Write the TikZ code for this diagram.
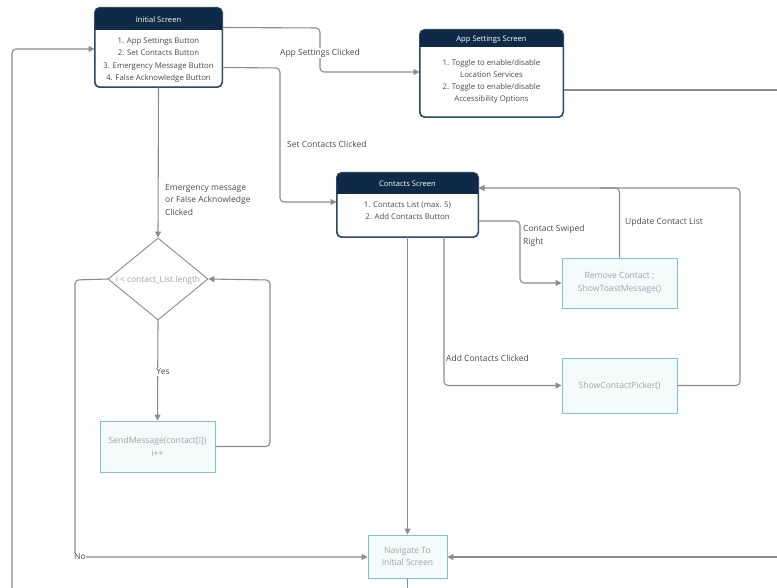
\documentclass[tikz,border=0pt]{standalone}
\usepackage{fontspec}
\setmainfont{Open Sans}
\usetikzlibrary{arrows.meta,shapes.geometric}
\definecolor{navy}{HTML}{0E2A47}
\definecolor{connc}{HTML}{8C8C8C}
\definecolor{tealb}{HTML}{7EC6C6}
\definecolor{tealf}{HTML}{F3FBFB}
\definecolor{ptext}{HTML}{9AA6A6}
\definecolor{stext}{HTML}{4A4A4A}
\tikzset{
  conn/.style={draw=connc, line width=1.1pt, rounded corners=4pt},
  arr/.style={conn, -{Triangle[length=6pt,width=6pt]}},
  screenbox/.style={draw=navy!85, line width=1pt, rounded corners=5pt, fill=white, inner sep=0pt},
  hdrtext/.style={text=white, font=\fontsize{7.6}{9}\selectfont, inner sep=0pt},
  bodytext/.style={text=stext, align=center, inner sep=0pt},
  proc/.style={draw=tealb, fill=tealf, line width=0.9pt, text=ptext, align=center, font=\fontsize{8.6}{12.5}\selectfont, inner sep=0pt},
  lbl/.style={text=stext, font=\fontsize{8.5}{12.5}\selectfont, align=left, inner sep=1pt},
}
\begin{document}
\begin{tikzpicture}[x=1pt,y=-1pt]
\useasboundingbox (0,0) rectangle (777,588);

% ---------- Initial Screen ----------
\node[screenbox, minimum width=127pt, minimum height=79pt] (init) at (158.5,47.5) {};
\begin{scope}
  \clip[rounded corners=5pt] (init.north west) rectangle (init.south east);
  \fill[navy] (init.north west) rectangle ([yshift=-23pt]init.north east);
\end{scope}
\draw[navy!85, line width=1pt, rounded corners=5pt] (init.north west) rectangle (init.south east);
\node[hdrtext] (initt) at (158.5,19.5) {Initial Screen};
\node[bodytext, font=\fontsize{7.8}{12.6}\selectfont] (initb) at (158.5,60) {1. App Settings Button\\2. Set Contacts Button\\3. Emergency Message Button\\4. False Acknowledge Button};

% ---------- App Settings Screen ----------
\node[screenbox, minimum width=143pt, minimum height=87pt] (apps) at (491.5,73.5) {};
\begin{scope}
  \clip[rounded corners=5pt] (apps.north west) rectangle (apps.south east);
  \fill[navy] (apps.north west) rectangle ([yshift=-18pt]apps.north east);
\end{scope}
\draw[navy!85, line width=1pt, rounded corners=5pt] (apps.north west) rectangle (apps.south east);
\node[hdrtext] (appst) at (491.5,39.5) {App Settings Screen};
\node[bodytext, font=\fontsize{7.8}{12.3}\selectfont] (appsb) at (491.5,81.5) {1. Toggle to enable/disable\\Location Services\\2. Toggle to enable/disable\\Accessibility Options};

% ---------- Contacts Screen ----------
\node[screenbox, minimum width=141pt, minimum height=64pt] (cont) at (407.5,205) {};
\begin{scope}
  \clip[rounded corners=5pt] (cont.north west) rectangle (cont.south east);
  \fill[navy] (cont.north west) rectangle ([yshift=-22pt]cont.north east);
\end{scope}
\draw[navy!85, line width=1pt, rounded corners=5pt] (cont.north west) rectangle (cont.south east);
\node[hdrtext] (contt) at (407.5,184) {Contacts Screen};
\node[bodytext, font=\fontsize{7.8}{12.3}\selectfont] (contb) at (407.5,211) {1. Contacts List (max. 5)\\2. Add Contacts Button};

% ---------- Decision ----------
\node[diamond, draw=connc, line width=0.9pt, minimum width=100pt, minimum height=82pt, inner sep=0pt, fill=white] (dec) at (158,279) {};
\node[text=ptext, font=\fontsize{8.4}{10}\selectfont, inner sep=0pt] (dect) at (158,280) {i < contact\_List.length};

% ---------- Process boxes ----------
\node[proc, minimum width=115pt, minimum height=51pt] (send) at (157.5,446.5) {SendMessage(contact[i])\\i++};
\node[proc, minimum width=115pt, minimum height=50pt] (remove) at (619.5,283) {Remove Contact ;\\ShowToastMessage()};
\node[proc, minimum width=115pt, minimum height=55pt] (picker) at (619.5,385.5) {ShowContactPicker()};
\node[proc, minimum width=79pt, minimum height=43pt] (nav) at (407.5,556.5) {Navigate To\\Initial Screen};

% ---------- outer coordinates ----------
\coordinate (leftbot) at (12,588);
\coordinate (rightout) at (777,90);
\coordinate (rightin) at (777,557);
\coordinate (navbot) at (407.5,588);

% ---------- Connectors ----------
\draw[arr] (leftbot) -- (12,49) -- (init.west |- 0,49);
\draw[arr] ([yshift=-20pt]init.north east) -- (320,28) -- (320,72) -- (apps.west |- 0,72);
\node[lbl, fill=white] (l1) at (320,53) {App Settings Clicked};
\draw[conn] (apps.east |- 0,90) -- (rightout);
\draw[arr] ([yshift=-60pt]init.north east) -- (280,68) -- (280,202) -- (cont.west |- 0,202);
\node[lbl, anchor=west] (l2) at (286,144) {Set Contacts Clicked};
\draw[arr] (init.south) -- (dec.north);
\node[lbl, anchor=west] (l3) at (164,200) {Emergency message\\or False Acknowledge\\Clicked};

\draw[arr] (cont.east |- 0,221) -- (520,221) -- (520,283) -- (remove.west);
\node[lbl, anchor=west] (l4) at (522,236) {Contact Swiped\\Right};
\draw[conn] (remove.north) -- (619.5,188) -- (600,188);
\draw[arr] (picker.east) -- (740,385.5) -- (740,188) -- (cont.east |- 0,188);
\node[lbl, anchor=west] (l5) at (624,222) {Update Contact List};
\draw[arr] (444,237) -- (444,385.5) -- (picker.west);
\node[lbl, anchor=west] (l6) at (445,358) {Add Contacts Clicked};
\draw[arr] (cont.south) -- (nav.north);

\draw[arr] (dec.south) -- (send.north);
\node[lbl, fill=white] (l7) at (163,372) {Yes};
\draw[arr] (send.east) -- (270,446.5) -- (270,280) -- (dec.east);
\draw[arr] (dec.west) -- (75,280) -- (75,557) -- (nav.west |- 0,557);
\node[lbl, fill=white, inner sep=0.5pt] (l8) at (80,557) {No};
\draw[arr] (rightin) -- (nav.east |- 0,557);
\draw[conn] (nav.south) -- (navbot);
\end{tikzpicture}
\end{document}
